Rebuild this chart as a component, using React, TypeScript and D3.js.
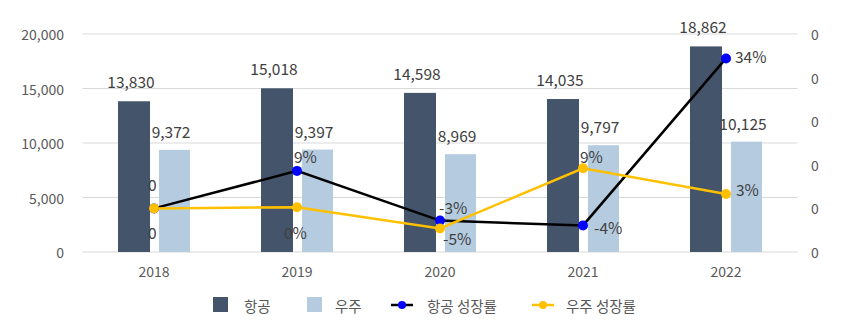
import React from "react";
import * as d3 from "d3";

const years = ["2018", "2019", "2020", "2021", "2022"];
const aeroValues = [13830, 15018, 14598, 14035, 18862];
const spaceValues = [9372, 9397, 8969, 9797, 10125];
const aeroGrowth = [0, 0.086, -0.028, -0.039, 0.344];
const spaceGrowth = [0, 0.0027, -0.046, 0.092, 0.033];
const leftTicks = [0, 5000, 10000, 15000, 20000];
const rightTicks = [-0.1, 0, 0.1, 0.2, 0.3, 0.4];
const legendLabels = ["항공", "우주", "항공 성장률", "우주 성장률"];

// label offsets relative to the point (dx to text start, dy to text middle)
const aeroLabelOffset: [number, number][] = [[-6, -24], [-3, -15], [-1, -14], [11, 2], [9, -2]];
const spaceLabelOffset: [number, number][] = [[-6, 24], [-13, 25], [3, 10], [-3, -12], [10, -5]];

const W = 850, H = 331;
const FONT = "'Noto Sans CJK KR', 'Noto Sans', sans-serif";
const AERO = "#44546a";
const SPACE = "#b4cbe0";
const YELLOW = "#ffc000";
const TEXT = "#595959";

export default function App() {
  const x = d3.scaleBand<string>().domain(years).range([82.5, 797.5]).padding(0);
  const y = d3.scaleLinear().domain([0, 20000]).range([252, 34]);
  const yr = d3.scaleLinear().domain([-0.1, 0.4]).range([252, 34]);
  const cx = (i: number) => (x(years[i]) as number) + x.bandwidth() / 2;
  const fmt = d3.format(",");
  const pct = (v: number, i: number) => (i === 0 ? "0" : d3.format(".0%")(v).replace("\u2212", "-"));
  const barW = 32;

  const lineGen = (arr: number[]) =>
    d3.line<number>().x((_, i) => cx(i)).y((d) => yr(d))(arr) as string;

  return (
    <svg width={W} height={H} style={{ display: "block", position: "absolute", left: 0, top: 0 }} fontFamily={FONT}>
      <rect width={W} height={H} fill="#fff" />
      {leftTicks.map((t) => (
        <g key={t}>
          <line x1={82.5} x2={797.5} y1={y(t)} y2={y(t)} stroke="#d9d9d9" strokeWidth={1} />
          <text x={64} y={y(t)} textAnchor="end" dominantBaseline="central" fontSize={14} fill={TEXT}>
            {fmt(t)}
          </text>
        </g>
      ))}
      {rightTicks.map((t) => (
        <text key={t} x={811} y={yr(t)} textAnchor="start" dominantBaseline="central" fontSize={14} fill={TEXT}>
          {d3.format(".0f")(Math.abs(t) < 1 ? 0 : t)}
        </text>
      ))}
      {years.map((yy, i) => (
        <text key={yy} x={cx(i)} y={271} textAnchor="middle" dominantBaseline="central" fontSize={14} fill={TEXT}>
          {yy}
        </text>
      ))}
      {aeroValues.map((v, i) => (
        <rect key={"a" + i} x={cx(i) - 36} y={y(v)} width={barW} height={y(0) - y(v)} fill={AERO} />
      ))}
      {spaceValues.map((v, i) => (
        <rect key={"s" + i} x={cx(i) + 5} y={y(v)} width={barW - 1} height={y(0) - y(v)} fill={SPACE} />
      ))}
      {aeroValues.map((v, i) => (
        <text key={"al" + i} x={cx(i) - 23} y={y(v) - 20} textAnchor="middle" dominantBaseline="central" fontSize={15.5} fill="#404040">
          {fmt(v)}
        </text>
      ))}
      {spaceValues.map((v, i) => (
        <text key={"sl" + i} x={cx(i) + 17} y={y(v) - 19} textAnchor="middle" dominantBaseline="central" fontSize={15.5} fill="#404040">
          {fmt(v)}
        </text>
      ))}
      <path d={lineGen(aeroGrowth)} fill="none" stroke="#000" strokeWidth={2.5} />
      <path d={lineGen(spaceGrowth)} fill="none" stroke={YELLOW} strokeWidth={2.5} />
      {aeroGrowth.map((v, i) => (
        <circle key={"ac" + i} cx={cx(i)} cy={yr(v)} r={5} fill="#0000ff" />
      ))}
      {spaceGrowth.map((v, i) => (
        <circle key={"sc" + i} cx={cx(i)} cy={yr(v)} r={5} fill={YELLOW} />
      ))}
      {aeroGrowth.map((v, i) => (
        <text key={"ag" + i} x={cx(i) + aeroLabelOffset[i][0]} y={yr(v) + aeroLabelOffset[i][1]} dominantBaseline="central" fontSize={15.5} fill="#404040">
          {pct(v, i)}
        </text>
      ))}
      {spaceGrowth.map((v, i) => (
        <text key={"sg" + i} x={cx(i) + spaceLabelOffset[i][0]} y={yr(v) + spaceLabelOffset[i][1]} dominantBaseline="central" fontSize={15.5} fill="#404040">
          {pct(v, i)}
        </text>
      ))}
      {/* legend */}
      <g fontSize={14.5} fill={TEXT}>
        <rect x={213} y={297} width={15} height={15} fill={AERO} />
        <text x={244} y={305} dominantBaseline="central">{legendLabels[0]}</text>
        <rect x={307} y={297} width={15} height={15} fill={SPACE} />
        <text x={335} y={305} dominantBaseline="central">{legendLabels[1]}</text>
        <line x1={391} x2={413} y1={305} y2={305} stroke="#000" strokeWidth={2.5} />
        <circle cx={402} cy={305} r={4} fill="#0000ff" />
        <text x={427} y={305} dominantBaseline="central">{legendLabels[2]}</text>
        <line x1={532} x2={554} y1={305} y2={305} stroke={YELLOW} strokeWidth={2.5} />
        <circle cx={543} cy={305} r={4} fill={YELLOW} />
        <text x={566} y={305} dominantBaseline="central">{legendLabels[3]}</text>
      </g>
    </svg>
  );
}
